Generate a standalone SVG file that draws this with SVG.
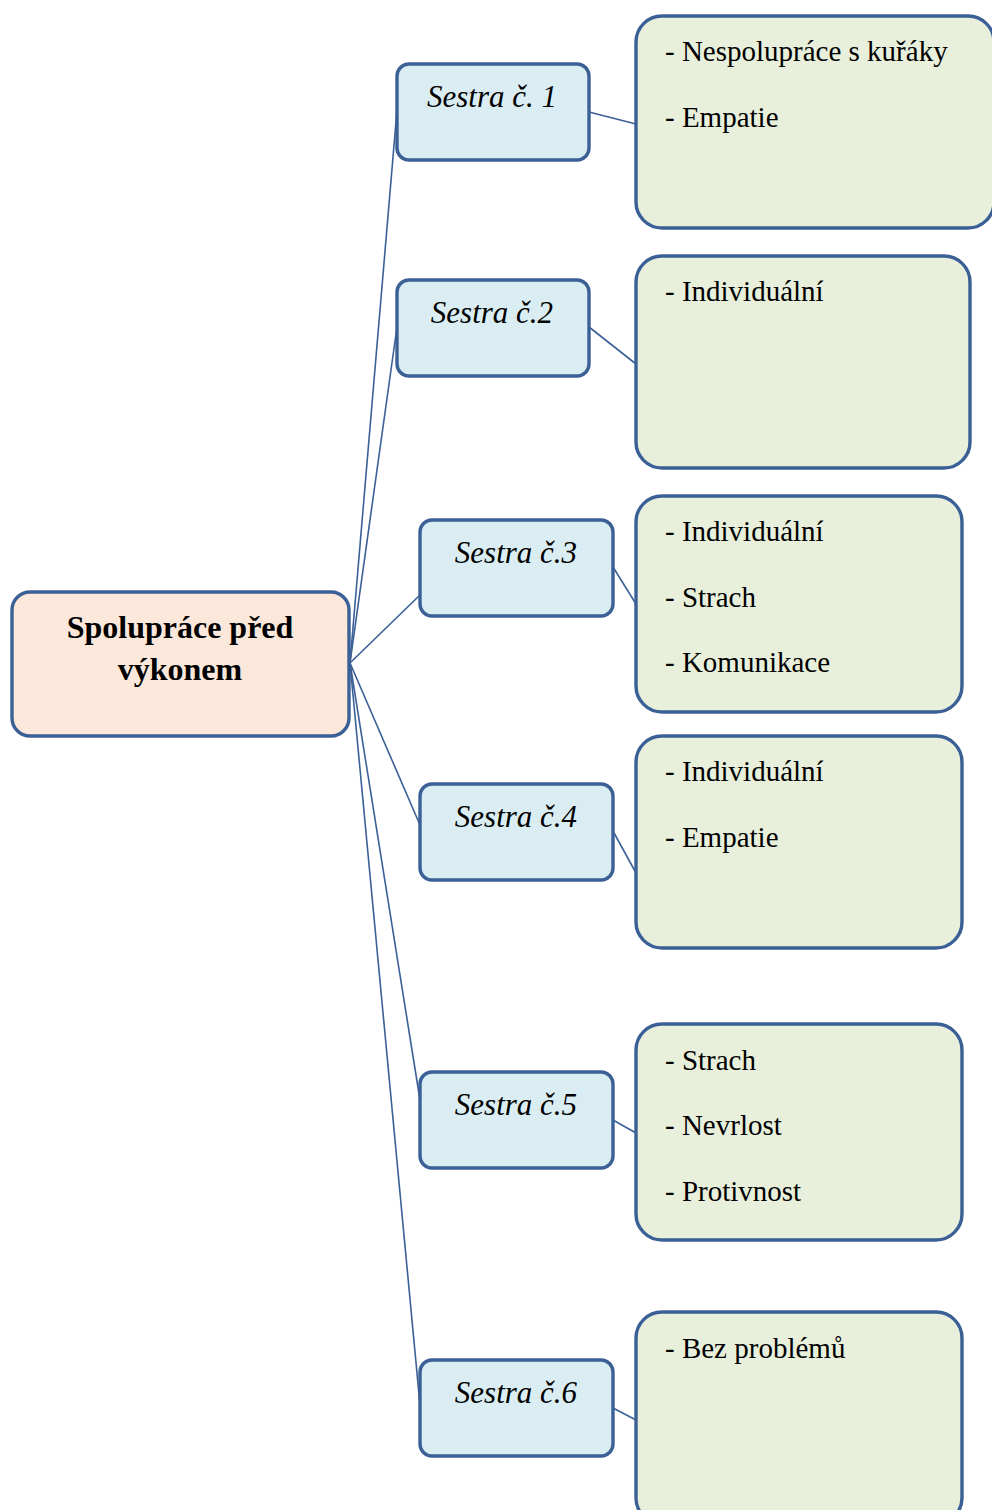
<svg xmlns="http://www.w3.org/2000/svg" width="992" height="1510" viewBox="0 0 992 1510">
  <style>
    .edge { stroke: #3b6096; stroke-width: 1.6; fill: none; }
    .box { stroke: #3b6096; stroke-width: 3.4; }
    .root { fill: #fce8da; }
    .nurse { fill: #daedf3; }
    .note { fill: #e8f0dc; }
    .rootText { font-family: "Liberation Serif", "Times New Roman", serif; font-size: 32px; font-weight: bold; fill: #000; text-anchor: middle; }
    .nurseText { font-family: "Liberation Serif", "Times New Roman", serif; font-size: 31px; font-style: italic; fill: #000; text-anchor: middle; }
    .noteText { font-family: "Liberation Serif", "Times New Roman", serif; font-size: 29px; fill: #000; }
  </style>
  <rect width="992" height="1510" fill="#ffffff"/>

  <!-- connectors -->
  <g id="connectors">
    <line class="edge" x1="350" y1="663" x2="397" y2="110"/>
    <line class="edge" x1="350" y1="663" x2="397" y2="327"/>
    <line class="edge" x1="350" y1="663" x2="420" y2="595"/>
    <line class="edge" x1="350" y1="663" x2="420" y2="825"/>
    <line class="edge" x1="350" y1="663" x2="420" y2="1100"/>
    <line class="edge" x1="350" y1="663" x2="420" y2="1405"/>
    <line class="edge" x1="589" y1="112" x2="636" y2="124"/>
    <line class="edge" x1="589" y1="327" x2="636" y2="364"/>
    <line class="edge" x1="613" y1="567" x2="636" y2="604"/>
    <line class="edge" x1="613" y1="831" x2="636" y2="873"/>
    <line class="edge" x1="613" y1="1120" x2="636" y2="1133"/>
    <line class="edge" x1="613" y1="1408" x2="636" y2="1420"/>
  </g>

  <!-- central topic -->
  <g id="root">
    <rect class="box root" x="12" y="592" width="337" height="144" rx="18"/>
    <text class="rootText" x="180" y="638">Spolupráce před</text>
    <text class="rootText" x="180" y="680">výkonem</text>
  </g>

  <!-- nurses -->
  <g id="sestra1">
    <rect class="box nurse" x="397" y="64" width="192" height="96" rx="12"/>
    <text class="nurseText" x="492" y="107">Sestra č. 1</text>
  </g>
  <g id="sestra2">
    <rect class="box nurse" x="397" y="280" width="192" height="96" rx="12"/>
    <text class="nurseText" x="492" y="323">Sestra č.2</text>
  </g>
  <g id="sestra3">
    <rect class="box nurse" x="420" y="520" width="193" height="96" rx="12"/>
    <text class="nurseText" x="516" y="563">Sestra č.3</text>
  </g>
  <g id="sestra4">
    <rect class="box nurse" x="420" y="784" width="193" height="96" rx="12"/>
    <text class="nurseText" x="516" y="827">Sestra č.4</text>
  </g>
  <g id="sestra5">
    <rect class="box nurse" x="420" y="1072" width="193" height="96" rx="12"/>
    <text class="nurseText" x="516" y="1115">Sestra č.5</text>
  </g>
  <g id="sestra6">
    <rect class="box nurse" x="420" y="1360" width="193" height="96" rx="12"/>
    <text class="nurseText" x="516" y="1403">Sestra č.6</text>
  </g>

  <!-- notes -->
  <g id="note1">
    <rect class="box note" x="636" y="16" width="358" height="212" rx="26"/>
    <text class="noteText" x="665" y="61">- Nespolupráce s kuřáky</text>
    <text class="noteText" x="665" y="127">- Empatie</text>
  </g>
  <g id="note2">
    <rect class="box note" x="636" y="256" width="334" height="212" rx="26"/>
    <text class="noteText" x="665" y="301">- Individuální</text>
  </g>
  <g id="note3">
    <rect class="box note" x="636" y="496" width="326" height="216" rx="26"/>
    <text class="noteText" x="665" y="541">- Individuální</text>
    <text class="noteText" x="665" y="607">- Strach</text>
    <text class="noteText" x="665" y="672">- Komunikace</text>
  </g>
  <g id="note4">
    <rect class="box note" x="636" y="736" width="326" height="212" rx="26"/>
    <text class="noteText" x="665" y="781">- Individuální</text>
    <text class="noteText" x="665" y="847">- Empatie</text>
  </g>
  <g id="note5">
    <rect class="box note" x="636" y="1024" width="326" height="216" rx="26"/>
    <text class="noteText" x="665" y="1070">- Strach</text>
    <text class="noteText" x="665" y="1135">- Nevrlost</text>
    <text class="noteText" x="665" y="1201">- Protivnost</text>
  </g>
  <g id="note6">
    <rect class="box note" x="636" y="1312" width="326" height="212" rx="26"/>
    <text class="noteText" x="665" y="1358">- Bez problémů</text>
  </g>
</svg>
